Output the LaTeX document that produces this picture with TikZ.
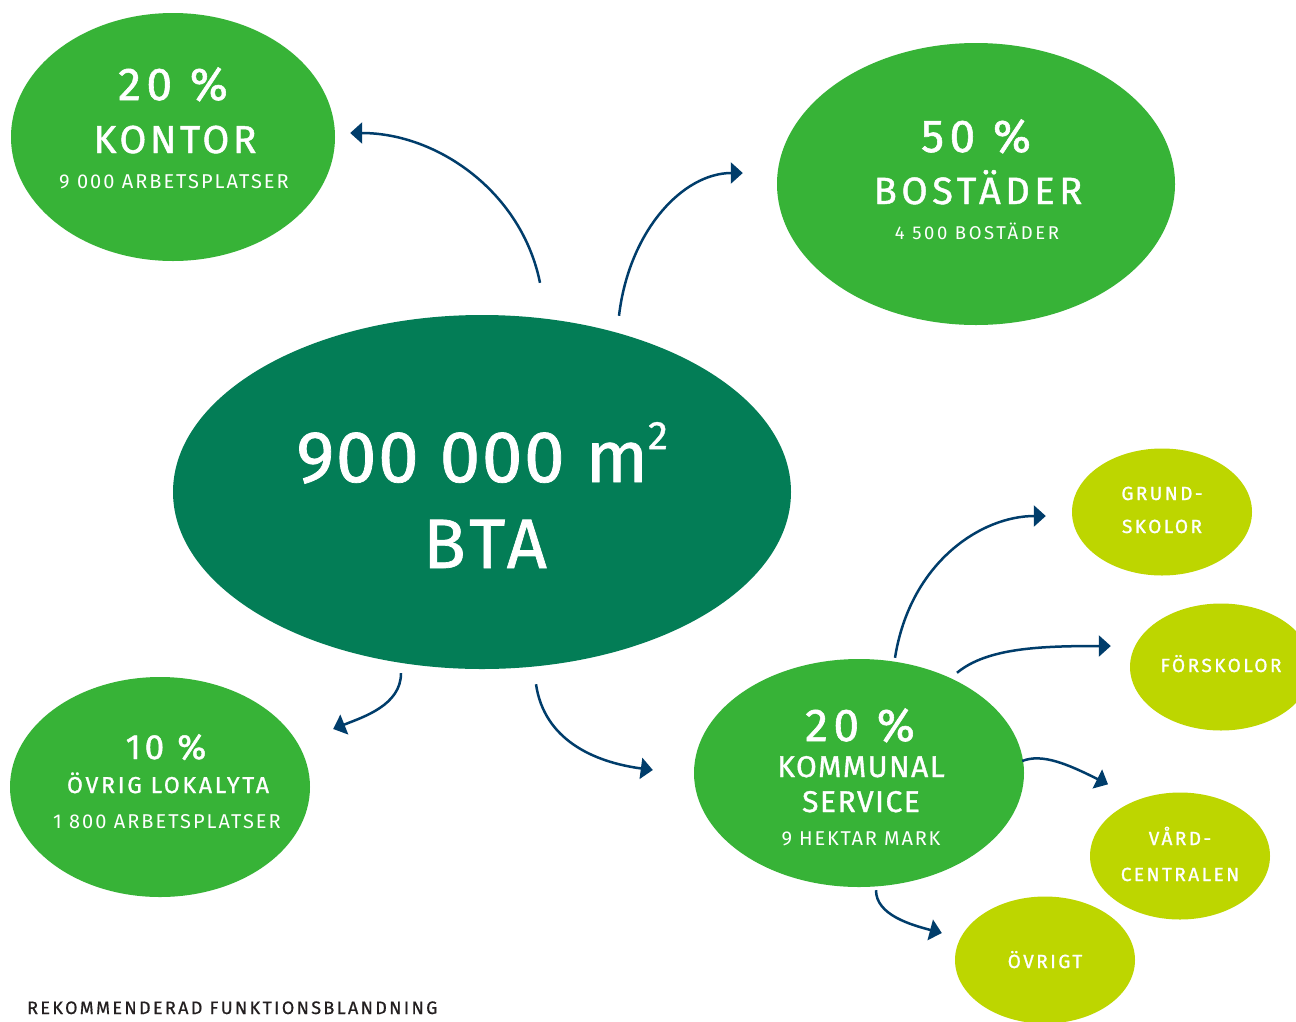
\documentclass[tikz,border=0pt]{standalone}
\usepackage{fontspec}
\setmainfont{Fira Sans}
\newfontfamily\medf[FakeBold=1.2,LetterSpace=5]{Fira Sans}
\newfontfamily\bigf[FakeBold=1.0,LetterSpace=2]{Fira Sans}
\newfontfamily\lightf[LetterSpace=5]{Fira Sans}
\newfontfamily\capf[FakeBold=0.6,LetterSpace=13]{Fira Sans}
\usetikzlibrary{shapes.geometric,arrows.meta,calc}
\definecolor{gmid}{HTML}{37B337}
\definecolor{gdark}{HTML}{037D56}
\definecolor{glime}{HTML}{BDD600}
\definecolor{arrowc}{HTML}{003D6B}
\definecolor{captc}{HTML}{231F20}
\newcommand{\fs}[1]{\fontsize{#1}{#1}\selectfont}
\newcommand{\ls}[1]{\addfontfeature{LetterSpace=#1}}
\tikzset{
  ell/.style={ellipse, inner sep=0pt, draw=none},
  midell/.style={ell, fill=gmid},
  limeell/.style={ell, fill=glime},
  line/.style={anchor=base, text=white, inner sep=0pt},
  limetext/.style={line, font=\medf\fs{19}\ls{13}},
  arr/.style={draw=arrowc, line width=2.5pt, -{Triangle[length=12pt,width=21pt]}},
}
\begin{document}
\begin{tikzpicture}[x=1pt,y=-1pt]
\clip (0,0) rectangle (1296,1021);
\fill[white] (0,0) rectangle (1296,1021);

% ellipses
\node[midell, minimum width=324pt, minimum height=248pt] (kontor) at (173,137) {};
\node[midell, minimum width=398pt, minimum height=282pt] (bost) at (976,184) {};
\node[ell, fill=gdark, minimum width=618pt, minimum height=354pt] (central) at (482,492) {};
\node[midell, minimum width=300pt, minimum height=220pt] (ovrig) at (160,787) {};
\node[midell, minimum width=330pt, minimum height=228pt] (kom) at (859,773) {};
\node[limeell, minimum width=180pt, minimum height=127pt] (grund) at (1162,512) {};
\node[limeell, minimum width=182pt, minimum height=127pt] (forsk) at (1221,667) {};
\node[limeell, minimum width=180pt, minimum height=127pt] (vard) at (1180,856) {};
\node[limeell, minimum width=180pt, minimum height=127pt] (ovrigt) at (1045,960) {};

% texts
\node[line] (k1) at (173,100) {\medf\fs{46}\ls{12}20 \%};
\node[line] (k2) at (175,153) {\medf\fs{39}\ls{9}KONTOR};
\node[line] (k3) at (174,188) {\lightf\fs{20}\ls{10}9 000 ARBETSPLATSER};

\node[line] (b1) at (976,152) {\medf\fs{46}\ls{12}50 \%};
\node[line] (b2) at (978,204) {\medf\fs{38}\ls{12}BOSTÄDER};
\node[line] (b3) at (977,239) {\lightf\fs{18.5}\ls{14}4 500 BOSTÄDER};

\node[line] (c1) at (482,482) {\bigf\fs{73}900 000 m\raisebox{0.45em}{\fs{40}2}};
\node[line] (c2) at (485,568) {\bigf\fs{70}\ls{7}BTA};

\node[line] (o1) at (166,759) {\medf\fs{35}\ls{11}10 \%};
\node[line] (o2) at (168,793) {\medf\fs{23}\ls{12}ÖVRIG LOKALYTA};
\node[line] (o3) at (167,828) {\lightf\fs{20}\ls{10}1 800 ARBETSPLATSER};

\node[line] (m1) at (860,741) {\medf\fs{46}\ls{12}20 \%};
\node[line] (m2) at (861,777) {\medf\fs{30}KOMMUNAL};
\node[line] (m3) at (861,812) {\medf\fs{30}SERVICE};
\node[line] (m4) at (861,845) {\lightf\fs{20}\ls{9}9 HEKTAR MARK};

\node[limetext] (g1) at (1162,500) {GRUND-};
\node[limetext] (g2) at (1162,533) {SKOLOR};
\node[limetext] (f1) at (1221,672) {FÖRSKOLOR};
\node[limetext] (v1) at (1180,845) {VÅRD-};
\node[limetext] (v2) at (1180,881) {CENTRALEN};
\node[limetext] (u1) at (1045,968) {ÖVRIGT};

\node[anchor=base west, inner sep=0pt, text=captc] (cap) at (27,1014) {\capf\fs{18}REKOMMENDERAD FUNKTIONSBLANDNING};

% arrows
\draw[arr] ($(central.north)+(58,-32)$) .. controls +(-18,-90) and +(88,0) .. ($(kontor.east)+(15,-4)$);
\draw[arr] ($(central.north)+(137,1)$) .. controls +(10,-85) and +(-60,0) .. ($(bost.west)+(-34,-11)$);
\draw[arr] ($(central.south)+(-81,4)$) .. controls +(0,32) and +(30,-12) .. ($(ovrig.east)+(23,-58)$);
\draw[arr] ($(central.south)+(54,15)$) .. controls +(8,55) and +(-60,-8) .. ($(kom.west)+(-41,-3)$);
\draw[arr] ($(kom.north)+(36,-1)$) .. controls +(15,-95) and +(-65,0) .. ($(grund.west)+(-26,4)$);
\draw[arr] ($(kom.north)+(98,14)$) .. controls +(30,-25) and +(-70,0) .. ($(forsk.west)+(-19,-21)$);
\draw[arr] ($(kom.east)+(-2,-12)$) .. controls +(20,-8) and +(-40,-20) .. ($(vard.north)+(-72,-8)$);
\draw[arr] ($(kom.south)+(17,3)$) .. controls +(0,25) and +(-30,-8) .. ($(ovrigt.west)+(-13,-27)$);
\end{tikzpicture}
\end{document}
